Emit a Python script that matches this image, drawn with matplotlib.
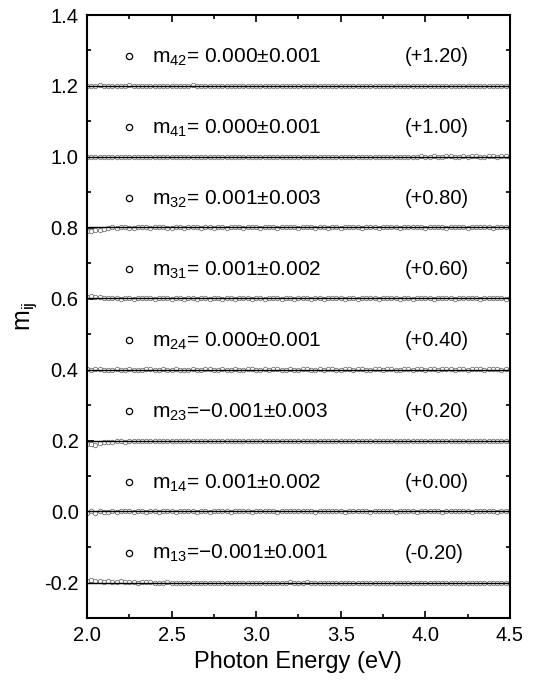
import matplotlib.pyplot as plt
import numpy as np

plt.rcParams['font.family'] = ['Liberation Sans', 'DejaVu Sans']
plt.rcParams['mathtext.fontset'] = 'custom'
plt.rcParams['mathtext.rm'] = 'Liberation Sans'
plt.rcParams['mathtext.it'] = 'Liberation Sans'
plt.rcParams['axes.unicode_minus'] = False

# Energias (eV), paso 0.025
energia = np.linspace(2.0, 4.5, 101)

# Elementos, desplazamientos, ajuste y desviaciones leidas (en unidades de 0.001)
nombres = ['42', '41', '32', '31', '24', '23', '14', '13']
desplaz = [1.20, 1.00, 0.80, 0.60, 0.40, 0.20, 0.00, -0.20]
etiq_desp = ['(+1.20)', '(+1.00)', '(+0.80)', '(+0.60)', '(+0.40)', '(+0.20)', '(+0.00)', '(-0.20)']
ajuste = [0.000, 0.000, 0.001, 0.001, 0.000, -0.001, 0.001, -0.001]
textos = ['= 0.000±0.001', '= 0.000±0.001', '= 0.001±0.003', '= 0.001±0.002',
          '= 0.000±0.001', '=\u22120.001±0.003', '= 0.001±0.002', '=\u22120.001±0.001']

dev_m42 = [1, 0, 1, 2, 1, 0, 1, 1, 0, 1, 2, 1, 0, 0, 1, 1, 0, 1, 1, 0,
           0, 1, 1, 0, 1, 2, 1, 0, 1, 1, 0, 0, 1, 0, 1, 1, 0, 1, 0, 0,
           1, 1, 0, 0, 1, 1, 0, 1, 1, 0, 1, 0, 0, 1, 1, 0, 1, 1, 0, 0,
           1, 0, 1, 1, 0, 0, 1, 1, 0, 1, 1, 0, 0, 1, 0, 1, 1, 0, 0, 1,
           1, 0, 1, 0, 0, 1, 1, 0, 1, 0, 0, 1, 1, 0, 1, 1, 0, 0, 1, 1, 0]
dev_m41 = [0, 1, 0, -1, 1, 0, 1, 0, 1, 1, 0, 0, 1, 0, -1, 0, 1, 1, 0, 0,
           1, 0, 0, 1, 1, 0, 0, 1, 0, 1, 0, 0, 1, 1, 0, 0, 1, 0, 0, 1,
           0, 1, 1, 0, 0, 1, 0, 1, 0, 0, 1, 1, 0, 0, 1, 0, 0, 1, 1, 0,
           0, 1, 0, 1, 1, 0, 0, 1, 0, 0, 1, 1, 0, 1, 0, 0, 1, 1, 1, 2,
           1, 1, 2, 1, 1, 2, 2, 1, 1, 2, 1, 2, 2, 1, 1, 2, 2, 1, 2, 2, 1]
dev_m32 = [-9, -10, -7, -5, -3, -1, 1, 0, 2, 1, -1, 0, 2, 3, 1, 0, 1, 2, 1, -1,
           0, 2, 1, 0, 1, 3, 2, 0, 1, 1, 0, 2, 1, 0, 1, 2, 1, 0, 2, 1,
           1, 0, 1, 2, 1, 0, 1, 1, 2, 1, 0, 1, 2, 1, 0, 1, 1, 0, 2, 1,
           0, 1, 2, 1, 1, 0, 1, 2, 1, 0, 1, 1, 2, 1, 0, 1, 1, 2, 1, 1,
           0, 1, 2, 1, 1, 0, 1, 1, 2, 1, 0, 1, 1, 2, 1, 1, 0, 1, 1, 2, 1]
dev_m31 = [6, 7, 4, 5, 2, 1, 3, 2, 0, 1, 2, 0, 1, 2, 3, 1, 0, 1, 2, 1,
           0, 2, 1, 0, 1, 2, 0, 1, 1, 0, 2, 1, 0, 1, 1, 0, 1, 2, 1, 0,
           1, 1, 0, 1, 2, 1, 0, 1, 1, 0, 1, 2, 1, 0, 1, 1, 0, 1, 1, 2,
           1, 0, 1, 1, 0, 1, 2, 1, 1, 0, 1, 1, 2, 1, 0, 1, 1, 0, 1, 2,
           1, 1, 0, 1, 1, 2, 1, 0, 1, 1, 2, 1, 1, 0, 1, 1, 2, 1, 1, 0, 1]
dev_m24 = [1, 0, 1, 1, 0, -1, 0, 1, 0, 0, 1, 0, -1, 0, 1, 1, 0, 0, 1, 0,
           0, 1, 0, -1, 0, 1, 0, 0, 1, 1, 0, 0, 1, 0, 0, 1, 0, 0, 1, 1,
           0, 0, 1, 0, 1, 1, 0, 0, 1, 0, 0, 1, 1, 0, 0, 1, 0, 1, 1, 0,
           0, 1, 1, 0, 1, 1, 0, 0, 1, 1, 0, 1, 1, 0, 0, 1, 1, 0, 1, 1,
           0, 1, 1, 0, 1, 1, 1, 0, 1, 1, 0, 1, 1, 1, 0, 1, 1, 1, 0, 1, 1]
dev_m23 = [-10, -8, -11, -6, -4, -3, -5, -2, -1, -3, -2, 0, -1, -2, -1, 0, -2, -1, 0, -1,
           -2, -1, 0, -1, -1, -2, 0, -1, -1, 0, -2, -1, 0, -1, -1, 0, -1, -2, -1, 0,
           -1, -1, 0, -1, -2, -1, 0, -1, -1, 0, -1, -1, -2, -1, 0, -1, -1, 0, -1, -1,
           0, -1, -2, -1, 0, -1, -1, 0, -1, -1, -2, -1, 0, -1, -1, 0, -1, -1, 0, -1,
           -1, 0, -1, -1, -2, -1, 0, -1, -1, 0, -1, -1, 0, -1, -1, -2, -1, 0, -1, -1, 0]
dev_m14 = [-3, 1, -4, 2, -1, -2, 1, 0, 1, 2, 1, 0, 1, 1, 0, 2, 1, 0, 1, 2,
           1, 0, 1, 1, 2, 1, 0, 1, 1, 0, 1, 2, 1, 1, 0, 1, 1, 2, 1, 0,
           1, 1, 2, 1, 1, 0, 1, 2, 2, 1, 1, 2, 1, 1, 0, 1, 2, 1, 1, 2,
           1, 0, 1, 1, 2, 1, 1, 0, 1, 2, 1, 1, 1, 0, 1, 2, 1, 1, 0, 1,
           1, 2, 1, 1, 0, 1, 1, 2, 1, 1, 1, 0, 1, 2, 1, 1, 1, 0, 1, 1, 1]
dev_m13 = [5, 6, 3, 4, 2, 3, 1, 2, 3, 1, 2, 1, 0, 1, 2, 1, 0, -1, 0, 1,
           0, -1, -2, -1, 0, -1, -2, -2, -1, -2, -1, 0, -1, -2, -1, -2, -1, -1, -2, -1,
           -2, -1, -2, -1, -1, 0, -1, 0, 1, 0, -1, 0, 1, 0, -1, 0, -1, -1, 0, -1,
           -1, -2, -1, -1, 0, -1, -1, -2, -1, -1, 0, -1, -1, -2, -1, 0, -1, -1, 0, -1,
           -1, -2, -1, -1, 0, -1, -1, -1, 0, -1, -1, -2, -1, -1, 0, -1, -1, -1, 0, -1, -1]

desviaciones = [dev_m42, dev_m41, dev_m32, dev_m31, dev_m24, dev_m23, dev_m14, dev_m13]

fig = plt.figure(figsize=(5.35, 6.86), dpi=100)
ax = fig.add_axes([0.1626, 0.0991, 0.7904, 0.8790])

for nom, d, et, aj, txt, dev in zip(nombres, desplaz, etiq_desp, ajuste, textos, desviaciones):
    valores = d + np.array(dev) / 1000.0
    ax.plot(energia, valores, 'o', ms=3.2, mfc='white', mec='0.45', mew=0.6, zorder=2)
    ax.plot([energia[0], energia[-1]], [d + aj, d + aj], '-', color='black', lw=1.0, zorder=3)
    # etiqueta de cada elemento
    ax.plot([2.25], [d + 0.084], 'o', ms=4.5, mfc='white', mec='black', mew=0.9)
    ax.text(2.385, d + 0.081, 'm$_{' + nom + '}$' + txt, fontsize=15, va='center', ha='left')
    ax.text(3.88, d + 0.083, et, fontsize=14.5, va='center', ha='left')

ax.set_xlim(2.0, 4.5)
ax.set_ylim(-0.3, 1.4)
ax.set_xticks(np.arange(2.0, 4.51, 0.5))
ax.set_xticks(np.arange(2.25, 4.5, 0.5), minor=True)
ax.set_yticks(np.arange(-0.2, 1.41, 0.2))
ax.set_yticks(np.arange(-0.3, 1.4, 0.2), minor=True)
ax.set_xticklabels(['%.1f' % v for v in np.arange(2.0, 4.51, 0.5)])
ax.set_yticklabels(['%.1f' % v if abs(v) > 1e-9 else '0.0' for v in np.arange(-0.2, 1.41, 0.2)])
ax.tick_params(which='both', direction='in', top=True, right=True, labelsize=14.5, width=1.2)
ax.tick_params(which='major', length=5, pad=6)
ax.tick_params(which='minor', length=3)
for s in ax.spines.values():
    s.set_linewidth(1.5)

ax.set_xlabel('Photon Energy (eV)', fontsize=17, labelpad=4)
ax.set_ylabel('m$_{\\rm ij}$', fontsize=18, labelpad=4)

fig.savefig('out.png', dpi=100)
